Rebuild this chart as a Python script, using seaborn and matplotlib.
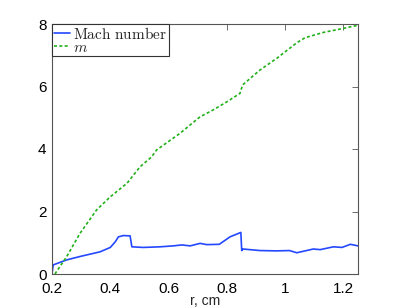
import numpy as np
import pandas as pd
import matplotlib
matplotlib.use("Agg")
import matplotlib.pyplot as plt
import seaborn as sns

# Mach number series
r_mach = [0.200, 0.204, 0.25, 0.296, 0.365, 0.40, 0.417, 0.428, 0.445, 0.468, 0.474,
          0.513, 0.571, 0.616, 0.646, 0.674, 0.708, 0.731, 0.774, 0.811, 0.848,
          0.851, 0.855, 0.914, 0.971, 1.015, 1.04, 1.097, 1.12, 1.166, 1.195, 1.224, 1.25]
mach = [0.00, 0.29, 0.45, 0.56, 0.71, 0.85, 1.03, 1.19, 1.23, 1.22, 0.87,
        0.85, 0.87, 0.90, 0.93, 0.90, 0.98, 0.94, 0.95, 1.19, 1.33,
        0.75, 0.80, 0.75, 0.74, 0.75, 0.68, 0.80, 0.78, 0.87, 0.85, 0.95, 0.90]

# m series
r_m = [0.21, 0.25, 0.296, 0.353, 0.40, 0.457, 0.502, 0.542, 0.559, 0.639, 0.708,
       0.753, 0.80, 0.845, 0.854, 0.914, 0.971, 1.04, 1.068, 1.131, 1.20, 1.25]
m_vals = [0.00, 0.55, 1.30, 2.05, 2.47, 2.90, 3.43, 3.75, 3.97, 4.50, 5.03,
          5.25, 5.51, 5.78, 6.05, 6.53, 6.90, 7.40, 7.56, 7.73, 7.86, 7.96]

x_ticks = [0.2, 0.4, 0.6, 0.8, 1.0, 1.2]
x_ticklabels = ["0.2", "0.4", "0.6", "0.8", "1", "1.2"]
y_ticks = [0, 2, 4, 6, 8]
labels = [r"$\mathrm{Mach\ number}$", r"$m$"]
xlabel = "r, cm"

sns.set_style("white")
plt.rcParams["font.family"] = ["Liberation Sans", "DejaVu Sans"]
plt.rcParams["mathtext.fontset"] = "cm"

df_mach = pd.DataFrame({"r": r_mach, "v": mach})
df_m = pd.DataFrame({"r": r_m, "v": m_vals})

fig = plt.figure(figsize=(3.95, 3.08), dpi=100)
ax = fig.add_axes([52 / 395, 1 - 274 / 308, 306 / 395, 250 / 308])

sns.lineplot(data=df_mach, x="r", y="v", ax=ax, color="#2448ff", lw=1.2,
             label=labels[0], sort=False)
sns.lineplot(data=df_m, x="r", y="v", ax=ax, color="#22b01a", lw=1.2,
             linestyle=(0, (1.8, 1.4)), label=labels[1], sort=False)

ax.set_xlim(0.2, 1.25)
ax.set_ylim(0, 8)
ax.set_xticks(x_ticks)
ax.set_xticklabels(x_ticklabels)
ax.set_yticks(y_ticks)
ax.set_xlabel(xlabel, fontsize=10, labelpad=-1)
ax.set_ylabel("")
ax.tick_params(direction="in", length=4, width=0.6, color="#555555",
               top=True, right=True, labelsize=11, labelcolor="black")
ax.tick_params(axis="x", pad=5.5)
ax.tick_params(axis="y", pad=4)
for s in ax.spines.values():
    s.set_color("#555555")
    s.set_linewidth(0.8)

leg = ax.legend(loc="upper left", borderaxespad=0.0, fontsize=11,
                handlelength=1.1, handletextpad=0.2, borderpad=0.1,
                labelspacing=-0.05, fancybox=False, framealpha=1, edgecolor="#333333")
leg.get_frame().set_linewidth(0.8)

fig.savefig("out.png", dpi=100)
